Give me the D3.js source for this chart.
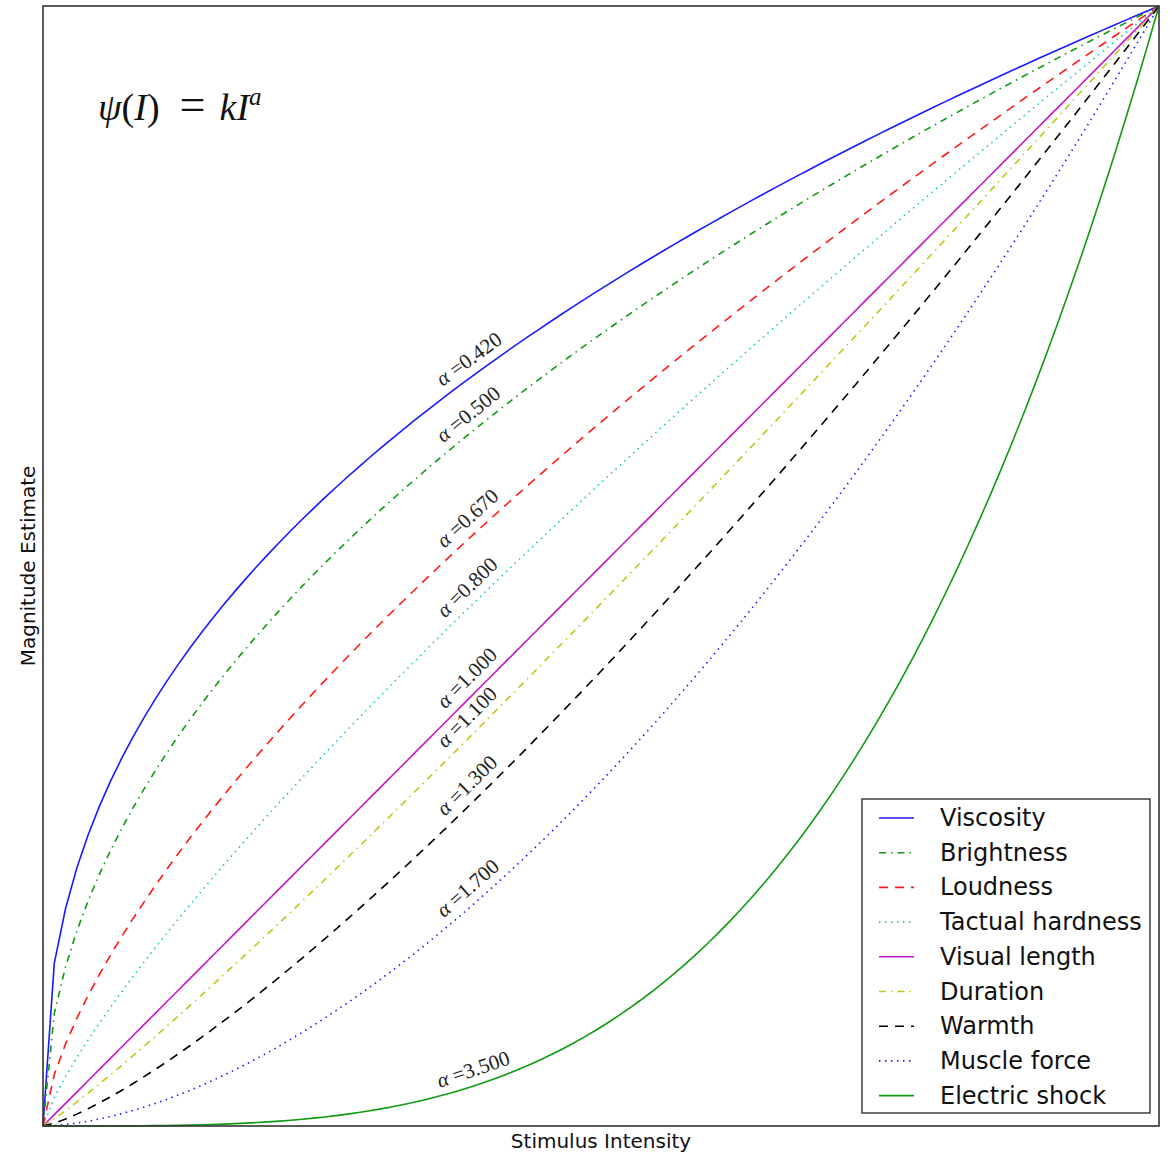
<!DOCTYPE html>
<html lang="en">
<head>
    <meta charset="UTF-8">
    <title>Stevens power law</title>
    <script src="https://d3js.org/d3.v7.min.js"></script>
    <style>
        body { margin: 0; background: #fff; }
        .frame { fill: none; stroke: #333; stroke-width: 1.6; }
        .curve { fill: none; stroke-width: 1.6; }
        .lbl { font-family: "Liberation Serif", serif; font-size: 21px; fill: #222; }
        .axlabel { font-family: "DejaVu Sans", sans-serif; font-size: 20px; fill: #111; }
        .legend text { font-family: "DejaVu Sans", sans-serif; font-size: 24px; fill: #111; }
    </style>
</head>
<body>
<svg width="1169" height="1153"></svg>

<script>
    // senses and Stevens exponents
    var senses = ['Viscosity', 'Brightness', 'Loudness', 'Tactual hardness', 'Visual length',
                  'Duration', 'Warmth', 'Muscle force', 'Electric shock'];
    var exponents = [0.42, 0.5, 0.67, 0.8, 1.0, 1.1, 1.3, 1.7, 3.5];
    var colors = ['#1a1aff', '#119911', '#ff1a1a', '#19c4c4', '#c419c4', '#c4c419', '#000000', '#1a1aff', '#119911'];
    var dashes = ['none', '7,5,1.5,5', '9,7', '1.5,4.5', 'none', '7,5,1.5,5', '9,7', '1.5,4.5', 'none'];

    var svg = d3.select('svg');
    var mLeft = 43, mTop = 6, mRight = 1159, mBottom = 1126;

    var x = d3.scaleLinear().domain([0, 1]).range([mLeft, mRight]);
    var y = d3.scaleLinear().domain([0, 1]).range([mBottom, mTop]);

    // stimulus samples, 100 points like np.linspace(0, 1, 100)
    var stim = d3.range(100).map(function(i) { return i / 99; });

    var line = d3.line()
            .x(function(d) { return x(d[0]); })
            .y(function(d) { return y(d[1]); });

    var plot = svg.append('g');

    exponents.forEach(function(a, i) {
        plot.append('path')
                .attr('class', 'curve')
                .attr('d', line(stim.map(function(s) { return [s, Math.pow(s, a)]; })))
                .attr('stroke', colors[i])
                .attr('stroke-dasharray', dashes[i]);
    });

    // exponent labels along curves
    var pxRatio = (mBottom - mTop) / (mRight - mLeft);
    exponents.forEach(function(a) {
        var t = 0.39;
        var slope = a * Math.pow(t, a - 1) * pxRatio;
        var ang = Math.atan(slope) * 180 / Math.PI;
        var g = plot.append('g')
                .attr('transform', 'translate(' + x(t) + ',' + y(Math.pow(t, a)) + ') rotate(' + (-ang) + ')');
        var txt = g.append('text')
                .attr('class', 'lbl')
                .attr('text-anchor', 'middle')
                .attr('y', -9);
        txt.append('tspan').attr('font-style', 'italic').text('α');
        txt.append('tspan').text(' =' + a.toFixed(3));
    });

    svg.append('rect')
            .attr('class', 'frame')
            .attr('x', mLeft).attr('y', mTop)
            .attr('width', mRight - mLeft).attr('height', mBottom - mTop);

    // formula
    var f = svg.append('text')
            .attr('x', 98).attr('y', 120)
            .style('font-family', '"Liberation Serif", serif')
            .style('font-size', '38px')
            .attr('fill', '#111');
    f.append('tspan').attr('font-style', 'italic').text('ψ');
    f.append('tspan').text('(');
    f.append('tspan').attr('font-style', 'italic').text('I');
    f.append('tspan').text(')');
    f.append('tspan').attr('dx', 20).style('font-size', '46px').text('=');
    f.append('tspan').attr('dx', 14).attr('font-style', 'italic').text('kI');
    f.append('tspan').attr('font-style', 'italic').attr('dy', -15).style('font-size', '25px').text('a');

    // axis labels
    svg.append('text')
            .attr('class', 'axlabel')
            .attr('text-anchor', 'middle')
            .attr('x', (mLeft + mRight) / 2).attr('y', 1148)
            .text('Stimulus Intensity');
    svg.append('text')
            .attr('class', 'axlabel')
            .attr('text-anchor', 'middle')
            .attr('transform', 'translate(35,' + ((mTop + mBottom) / 2) + ') rotate(-90)')
            .text('Magnitude Estimate');

    // legend
    var legend = svg.append('g').attr('class', 'legend');
    legend.append('rect')
            .attr('x', 862).attr('y', 799)
            .attr('width', 288).attr('height', 314)
            .attr('fill', '#fff').attr('stroke', '#222').attr('stroke-width', 1.3);
    senses.forEach(function(name, i) {
        var yy = 818 + i * 34.7;
        legend.append('line')
                .attr('x1', 879).attr('x2', 914)
                .attr('y1', yy).attr('y2', yy)
                .attr('stroke', colors[i]).attr('stroke-width', 1.6)
                .attr('stroke-dasharray', dashes[i]);
        legend.append('text')
                .attr('x', 940).attr('y', yy + 8)
                .text(name);
    });
</script>
</body>
</html>
